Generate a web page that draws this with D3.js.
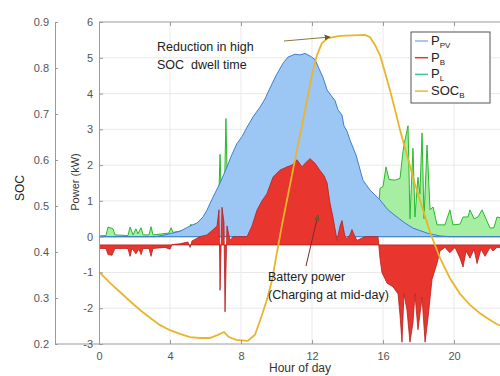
<!DOCTYPE html>
<html>
<head>
<meta charset="utf-8">
<script src="https://cdn.jsdelivr.net/npm/d3@7"></script>
<style>
  body { margin: 0; background: #fff; }
  svg { font-family: "Liberation Sans", Arial, sans-serif; }
</style>
</head>
<body>
<svg id="chart"></svg>
<script>
// Размеры
const width = 500;
const height = 376;

// Данные (час суток -> значение)
// PV генерация, кВт
const pvHours = [0, 3.15, 3.72, 4.56, 5.13, 5.52, 5.86, 6.08, 6.42, 6.82, 7.21, 7.49, 7.77, 8.06, 8.34, 8.68, 9.07, 9.35, 9.63, 9.97, 10.37, 10.65, 11.04, 11.32, 11.61, 11.89, 12.17, 12.39, 12.62, 12.85, 13.07, 13.3, 13.46, 13.69, 13.8, 13.97, 14.14, 14.48, 14.87, 15.27, 15.83, 16.28, 16.79, 17.24, 17.69, 18.48, 19.21, 19.77, 24];
const pvValues = [0, 0, 0.05, 0.15, 0.3, 0.38, 0.55, 0.74, 1.1, 1.5, 1.95, 2.3, 2.6, 2.8, 3.06, 3.35, 3.62, 3.85, 4.15, 4.5, 4.85, 5.02, 5.1, 5.08, 5.12, 5.05, 4.95, 4.7, 4.45, 4.1, 3.95, 3.8, 3.55, 3.4, 3.1, 2.95, 2.7, 2.28, 1.58, 1.3, 1.03, 0.75, 0.55, 0.38, 0.24, 0.1, 0.02, 0, 0];

// Нагрузка, кВт
const loadHours = [0, 0.39, 0.51, 0.79, 0.9, 1.63, 1.75, 1.92, 2.08, 2.2, 2.37, 2.48, 2.82, 2.93, 3.04, 3.94, 4.06, 4.17, 5.07, 5.18, 5.3, 6.7, 6.82, 6.93, 7.04, 7.15, 7.27, 7.94, 15.27, 15.72, 15.83, 16.0, 16.17, 16.34, 16.68, 16.96, 17.13, 17.24, 17.41, 17.52, 17.69, 17.8, 17.97, 18.08, 18.2, 18.31, 18.48, 18.65, 18.82, 19.04, 19.49, 19.77, 19.94, 20.34, 20.51, 20.79, 20.9, 21.13, 21.35, 21.58, 21.8, 22.03, 22.25, 22.42, 24];
const loadValues = [0.02, 0.03, 0.27, 0.22, 0.05, 0.03, 0.27, 0.05, 0.22, 0.08, 0.25, 0.05, 0.05, 0.28, 0.05, 0.1, 0.25, 0.12, 0.2, 0.35, 0.2, 0.3, 2.3, 0.4, 0.5, 3.3, 0.5, 0.3, 0.4, 0.5, 1.35, 1.4, 1.95, 1.6, 1.58, 1.63, 2.4, 2.7, 3.1, 0.5, 2.47, 0.55, 1.66, 1.2, 2.9, 0.5, 2.56, 0.75, 0.83, 0.33, 0.33, 0.75, 0.33, 0.35, 0.55, 0.55, 0.75, 0.5, 0.55, 0.75, 0.5, 0.24, 0.25, 0.55, 0.4];

// Мощность батареи, кВт (базовая линия смещена)
const batBase = -0.23;
const batHours = [0, 0.39, 0.51, 0.73, 0.9, 1.63, 1.75, 1.86, 2.08, 2.25, 2.37, 2.48, 2.82, 2.93, 3.04, 3.72, 4.0, 4.11, 4.56, 5.01, 5.13, 5.24, 5.69, 6.08, 6.42, 6.65, 6.76, 6.82, 6.93, 7.04, 7.1, 7.21, 7.38, 7.55, 8.34, 8.62, 8.9, 9.18, 9.46, 9.8, 10.2, 10.59, 10.87, 11.15, 11.44, 11.61, 11.89, 12.17, 12.45, 12.68, 12.85, 13.01, 13.18, 13.41, 13.58, 13.69, 13.86, 13.97, 14.14, 14.25, 14.42, 14.54, 14.99, 15.27, 15.72, 15.83, 15.94, 16.23, 16.56, 16.85, 16.96, 17.07, 17.18, 17.35, 17.52, 17.69, 17.8, 17.97, 18.2, 18.37, 18.54, 18.76, 19.04, 19.21, 19.49, 19.77, 20.06, 20.34, 20.51, 20.68, 20.9, 21.13, 21.3, 21.52, 21.75, 22.03, 22.2, 22.42, 24];
const batValues = [-0.33, -0.33, -0.5, -0.52, -0.33, -0.33, -0.55, -0.33, -0.48, -0.35, -0.5, -0.33, -0.33, -0.55, -0.33, -0.3, -0.35, -0.22, -0.2, -0.15, -0.3, -0.12, 0.0, 0.05, 0.19, 0.3, 0.75, -1.5, 0.82, 0.4, -2.1, 0.3, -0.1, 0.0, 0.0, 0.3, 0.74, 1.0, 1.2, 1.66, 1.86, 1.95, 2.0, 2.15, 1.95, 2.05, 2.18, 2.05, 1.85, 1.7, 1.5, 0.95, 0.55, -0.1, 0.3, 0.45, 0.0, -0.05, 0.05, 0.2, 0.0, -0.1, 0.0, 0.0, 0.0, -0.6, -1.0, -1.3, -1.4, -1.6, -2.2, -2.95, -1.6, -2.05, -2.95, -2.4, -1.6, -2.6, -1.7, -2.95, -2.25, -1.2, -0.75, -0.4, -0.3, -0.45, -0.3, -0.6, -0.85, -0.4, -0.6, -0.35, -0.75, -0.35, -0.55, -0.3, -0.4, -0.3, -0.3];

// Уровень заряда батареи
const socHours = [0, 0.62, 1.18, 1.75, 2.31, 2.87, 3.44, 4.0, 4.56, 5.13, 5.69, 6.25, 6.7, 7.04, 7.32, 7.72, 8.39, 8.79, 9.18, 9.46, 9.75, 10.03, 10.31, 10.59, 10.87, 11.15, 11.44, 11.72, 12.0, 12.28, 12.56, 12.9, 13.58, 14.99, 15.27, 15.55, 15.83, 16.11, 16.39, 16.68, 16.96, 17.24, 17.52, 17.8, 18.08, 18.37, 18.65, 19.21, 19.77, 20.34, 20.9, 21.46, 22.03, 22.42, 24];
const socValues = [0.357, 0.333, 0.313, 0.293, 0.274, 0.257, 0.241, 0.23, 0.222, 0.215, 0.213, 0.213, 0.22, 0.226, 0.215, 0.209, 0.207, 0.22, 0.263, 0.296, 0.339, 0.4, 0.459, 0.513, 0.567, 0.622, 0.676, 0.73, 0.785, 0.828, 0.854, 0.865, 0.87, 0.872, 0.867, 0.85, 0.828, 0.791, 0.752, 0.709, 0.665, 0.626, 0.587, 0.548, 0.513, 0.478, 0.443, 0.387, 0.343, 0.309, 0.285, 0.267, 0.252, 0.243, 0.22];

// Подписи шкал
const hourTicks = [0, 4, 8, 12, 16, 20];
const powerTicks = [-3, -2, -1, 0, 1, 2, 3, 4, 5, 6];
const socTicks = [0.2, 0.3, 0.4, 0.5, 0.6, 0.7, 0.8, 0.9];

// Легенда
const legendItems = [
  { main: 'P', sub: 'PV', color: '#8db6e8' },
  { main: 'P', sub: 'B', color: '#d83a32' },
  { main: 'P', sub: 'L', color: '#3fc39a' },
  { main: 'SOC', sub: 'B', color: '#e8b83a' }
];

// Области
const plotLeft = 99, plotTop = 22, plotBottom = 344, socLeft = 55;

const svg = d3.select('#chart').attr('width', width).attr('height', height);

const x = d3.scaleLinear().domain([0, 24]).range([plotLeft, plotLeft + 24 * 17.75]);
const yP = d3.scaleLinear().domain([-3, 6]).range([plotBottom, plotTop]);
const yS = d3.scaleLinear().domain([0.2, 0.9]).range([plotBottom, plotTop]);

svg.append('clipPath').attr('id', 'clip')
  .append('rect')
  .attr('x', plotLeft).attr('y', plotTop)
  .attr('width', width - plotLeft).attr('height', plotBottom - plotTop);

// Сетка
const grid = svg.append('g');
grid.selectAll('.hg').data(powerTicks.filter(d => d > -3 && d < 6)).enter().append('line')
  .attr('x1', plotLeft).attr('x2', width)
  .attr('y1', d => yP(d)).attr('y2', d => yP(d))
  .attr('stroke', '#e9e9e9').attr('stroke-width', 1);
grid.selectAll('.vg').data(hourTicks.filter(d => d > 0)).enter().append('line')
  .attr('x1', d => x(d)).attr('x2', d => x(d))
  .attr('y1', plotTop).attr('y2', plotBottom)
  .attr('stroke', '#e9e9e9').attr('stroke-width', 1);

const plot = svg.append('g').attr('clip-path', 'url(#clip)');

function zipData(hours, values) {
  return hours.map((h, i) => ({ h: h, v: values[i] }));
}

// Нагрузка
const loadData = zipData(loadHours, loadValues);
plot.append('path').datum(loadData)
  .attr('fill', '#a6eea2')
  .attr('stroke', '#2bb82e').attr('stroke-width', 1)
  .attr('d', d3.area().x(d => x(d.h)).y0(yP(0)).y1(d => yP(d.v)));

// PV
const pvData = zipData(pvHours, pvValues);
plot.append('path').datum(pvData)
  .attr('fill', '#9cc6f3')
  .attr('stroke', '#3f7fcc').attr('stroke-width', 1)
  .attr('d', d3.area().x(d => x(d.h)).y0(yP(0)).y1(d => yP(d.v)));

// Батарея
const batData = zipData(batHours, batValues);
plot.append('path').datum(batData)
  .attr('fill', '#e8362f')
  .attr('stroke', '#b8201c').attr('stroke-width', 0.8)
  .attr('d', d3.area().x(d => x(d.h)).y0(yP(batBase)).y1(d => yP(d.v)));

// SOC
const socData = zipData(socHours, socValues);
plot.append('path').datum(socData)
  .attr('fill', 'none')
  .attr('stroke', '#e9b52c').attr('stroke-width', 1.8)
  .attr('d', d3.line().x(d => x(d.h)).y(d => yS(d.v)));

// Рамка
const frameColor = '#9a9a9a';
svg.append('line').attr('x1', plotLeft).attr('x2', width).attr('y1', plotTop).attr('y2', plotTop)
  .attr('stroke', frameColor);
svg.append('line').attr('x1', socLeft).attr('x2', width).attr('y1', plotBottom).attr('y2', plotBottom)
  .attr('stroke', frameColor);

// Оси
const fmt = d => String(d);
const powerAxis = svg.append('g').attr('transform', `translate(${plotLeft},0)`)
  .call(d3.axisLeft(yP).tickValues(powerTicks).tickSize(-4).tickPadding(6).tickFormat(fmt));
const socAxis = svg.append('g').attr('transform', `translate(${socLeft},0)`)
  .call(d3.axisLeft(yS).tickValues(socTicks).tickSize(-3).tickPadding(6).tickFormat(d3.format('.1f')));
const hourAxis = svg.append('g').attr('transform', `translate(0,${plotBottom})`)
  .call(d3.axisBottom(x).tickValues(hourTicks).tickSize(-4).tickPadding(8).tickFormat(fmt));
const hourTop = svg.append('g').attr('transform', `translate(0,${plotTop})`)
  .call(d3.axisTop(x).tickValues(hourTicks).tickSize(-4).tickFormat(''));

[powerAxis, socAxis, hourAxis, hourTop].forEach(a => {
  a.select('.domain').attr('stroke', frameColor);
  a.selectAll('.tick line').attr('stroke', frameColor);
  a.selectAll('.tick text').attr('fill', '#555').style('font-size', '11px');
});
hourAxis.select('.domain').remove();
hourTop.select('.domain').remove();

// Подписи осей
svg.append('text').attr('transform', 'translate(24,188) rotate(-90)')
  .attr('text-anchor', 'middle').style('font-size', '12px').attr('fill', '#222').text('SOC');
svg.append('text').attr('transform', 'translate(79,182) rotate(-90)')
  .attr('text-anchor', 'middle').style('font-size', '11px').attr('fill', '#333').text('Power (kW)');
svg.append('text').attr('x', 300).attr('y', 372)
  .attr('text-anchor', 'middle').style('font-size', '12px').attr('fill', '#333').text('Hour of day');

// Аннотации
svg.append('defs').append('marker')
  .attr('id', 'arrow').attr('viewBox', '0 0 10 10').attr('refX', 9).attr('refY', 5)
  .attr('markerWidth', 6).attr('markerHeight', 6).attr('orient', 'auto')
  .append('path').attr('d', 'M0,0 L10,5 L0,10 z').attr('fill', '#6a5a2a');

svg.append('line').attr('x1', 284).attr('y1', 41).attr('x2', 330).attr('y2', 37)
  .attr('stroke', '#8a7a3a').attr('stroke-width', 1).attr('marker-end', 'url(#arrow)');
svg.append('text').attr('x', 157).attr('y', 51).style('font-size', '12.5px').attr('fill', '#222')
  .text('Reduction in high');
svg.append('text').attr('x', 157).attr('y', 69).style('font-size', '12.5px').attr('fill', '#222')
  .attr('xml:space', 'preserve').text('SOC  dwell time');

svg.append('line').attr('x1', 306).attr('y1', 266).attr('x2', 318).attr('y2', 215)
  .attr('stroke', '#7a2a2a').attr('stroke-width', 1).attr('marker-end', 'url(#arrow)');
svg.append('text').attr('x', 268).attr('y', 281).style('font-size', '12.5px').attr('fill', '#222')
  .text('Battery power');
svg.append('text').attr('x', 268).attr('y', 299).style('font-size', '12.5px').attr('fill', '#222')
  .text('(Charging at mid-day)');

// Легенда
const legend = svg.append('g');
legend.append('rect').attr('x', 411).attr('y', 32).attr('width', 79).attr('height', 71)
  .attr('fill', '#fff').attr('stroke', '#555').attr('stroke-width', 1);
const rows = legend.selectAll('.row').data(legendItems).enter().append('g')
  .attr('transform', (d, i) => `translate(0,${41 + i * 16.7})`);
rows.append('line').attr('x1', 415).attr('x2', 428).attr('y1', 0).attr('y2', 0)
  .attr('stroke', d => d.color).attr('stroke-width', 1.5);
const lt = rows.append('text').attr('x', 431).attr('y', 4).style('font-size', '13px').attr('fill', '#222');
lt.append('tspan').text(d => d.main);
lt.append('tspan').attr('dy', 3).style('font-size', '8px').text(d => d.sub);
</script>
</body>
</html>
